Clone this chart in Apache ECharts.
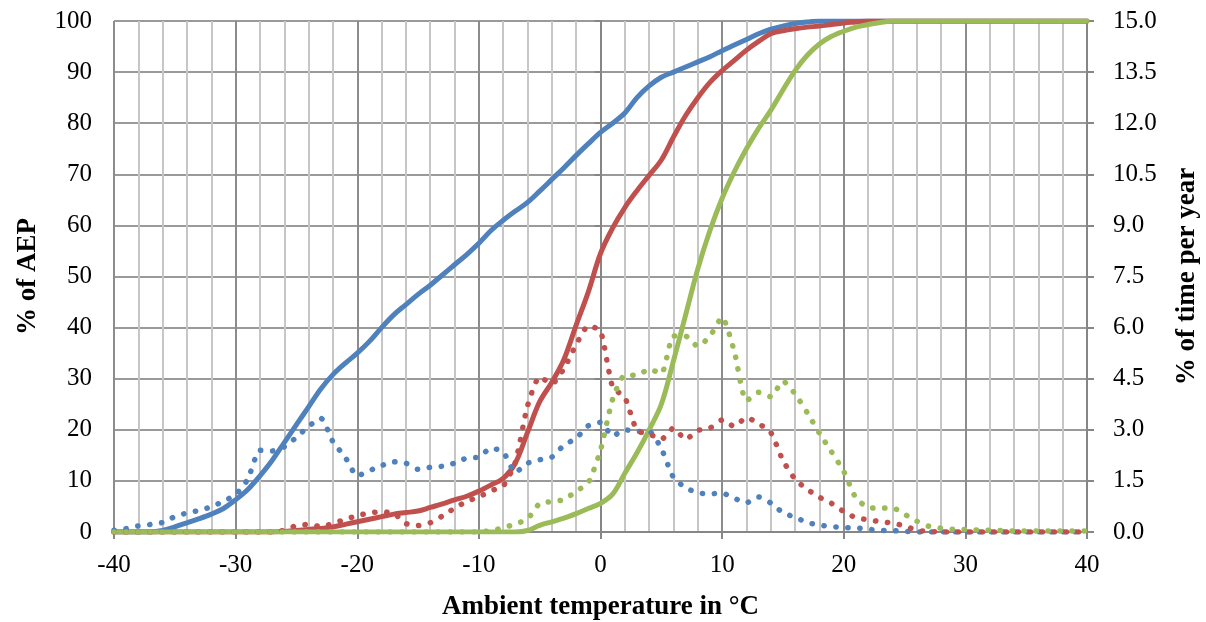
<!DOCTYPE html>
<html>
<head>
<meta charset="utf-8">
<script src="https://cdn.jsdelivr.net/npm/echarts@6/dist/echarts.min.js"></script>
<style>
html,body{margin:0;padding:0;background:#fff;}
#chart{width:1206px;height:622px;}
</style>
</head>
<body>
<div id="chart"></div>
<script>
// Temperatures (°C), one point per degree from -40 to 40
const temperatures = [];
for (let t = -40; t <= 40; t++) temperatures.push(t);

// Cumulative % of AEP (left axis)
const aepBlue = [0,0,0,0,0.3,1,1.8,2.6,3.5,4.6,
  6.3,8.3,11,14,17.5,21,24.5,28,30.8,33,
  35,37.3,40,42.5,44.5,46.5,48.3,50.3,52.3,54.3,
  56.5,59,61,62.8,64.5,66.7,69,71.3,73.7,76,
  78.2,80,82,85,87.3,89,90,91,92,93,
  94.2,95.3,96.4,97.5,98.4,99,99.5,99.8,100,100,
  100,100,100,100,100,100,100,100,100,100,
  100,100,100,100,100,100,100,100,100,100,100];
const aepRed = [0,0,0,0,0,0,0,0,0,0,
  0,0,0,0,0.1,0.3,0.5,0.7,1,1.5,
  2,2.5,3,3.5,3.8,4.1,4.8,5.5,6.3,7,
  8,9.2,10.5,13.5,19.5,25.5,29.3,33.8,40.5,47,
  54.5,59.5,63.5,66.8,69.8,72.8,77.3,81.5,85,88,
  90.3,92.3,94.3,96,97.5,98.1,98.5,98.8,99,99.3,
  99.6,99.8,100,100,100,100,100,100,100,100,
  100,100,100,100,100,100,100,100,100,100,100];
const aepGreen = [0,0,0,0,0,0,0,0,0,0,
  0,0,0,0,0,0,0,0,0,0,
  0,0,0,0,0,0,0,0,0,0,
  0,0,0,0,0.3,1.3,2,2.7,3.6,4.6,
  5.6,7.4,11.5,15.5,20,25,33.5,42.5,51.5,59,
  65.3,70.5,75,79,82.5,86.5,90.3,93.3,95.5,97,
  98,98.8,99.3,99.7,100,100,100,100,100,100,
  100,100,100,100,100,100,100,100,100,100,100];

// % of time per year (right axis)
const timeBlue = [0.05,0.1,0.18,0.22,0.28,0.45,0.56,0.63,0.74,0.9,
  1.1,1.55,2.4,2.38,2.5,2.78,3.1,3.34,2.65,2.2,
  1.65,1.8,1.95,2.06,2.02,1.84,1.9,1.93,2.02,2.17,
  2.2,2.46,2.35,1.75,2.02,2.12,2.2,2.55,2.75,3.12,
  3.22,2.82,3.0,2.95,2.95,2.45,1.6,1.3,1.15,1.12,
  1.14,0.99,0.86,1.03,0.85,0.57,0.43,0.28,0.2,0.16,
  0.13,0.12,0.08,0.05,0.04,0.02,0,0,0,0,
  0,0,0,0,0,0,0,0,0,0,0];
const timeRed = [0,0,0,0,0,0,0,0,0,0,
  0,0,0,0,0.05,0.19,0.22,0.16,0.25,0.37,
  0.48,0.56,0.59,0.55,0.25,0.19,0.27,0.47,0.7,0.9,
  1.03,1.21,1.35,2.05,3.7,4.55,4.35,4.8,5.5,6.05,
  5.9,4.25,3.95,2.98,2.88,2.72,3.05,2.72,2.98,3.05,
  3.29,3.1,3.36,3.18,2.92,2.1,1.55,1.25,1.02,0.84,
  0.6,0.42,0.36,0.3,0.26,0.18,0.05,0.02,0,0,
  0,0,0,0,0,0,0,0,0,0,0];
const timeGreen = [0,0,0,0,0,0,0,0,0,0,
  0,0,0,0,0,0,0,0,0,0,
  0,0,0,0,0,0,0,0,0,0,
  0,0.04,0.12,0.24,0.38,0.84,0.89,0.95,1.2,1.45,
  2.4,3.9,4.6,4.6,4.78,4.65,5.75,5.75,5.45,5.75,
  6.3,5.3,3.85,4.1,3.97,4.43,4.05,3.5,2.9,2.35,
  1.78,1.0,0.72,0.7,0.71,0.52,0.32,0.17,0.11,0.08,
  0.07,0.06,0.05,0.04,0.03,0.03,0.03,0.03,0.03,0.03,0.03];

const xTitle = 'Ambient temperature in °C';
const yLeftTitle = '% of AEP';
const yRightTitle = '% of time per year';

const colors = {blue:'#4F81BD', red:'#C0504D', green:'#9BBB59'};
const pair = arr => temperatures.map((t, i) => [t, arr[i]]);
const font = 'Liberation Serif';

function solid(name, data, color) {
  return {name, type:'line', yAxisIndex:0, data:pair(data), showSymbol:false,
    smooth:0.35,
    lineStyle:{color, width:5, cap:'round', join:'round'}, z:2};
}
function dotted(name, data, color) {
  return {name, type:'line', yAxisIndex:1, data:pair(data), showSymbol:false,
    smooth:0.2,
    lineStyle:{color, width:5.5, type:[0.3, 11.7], cap:'round', join:'round'}, z:3};
}

const chart = echarts.init(document.getElementById('chart'), null, {renderer:'canvas'});
chart.setOption({
  animation:false,
  backgroundColor:'#fff',
  grid:{left:114, right:119, top:21, bottom:90, containLabel:false, outerBoundsMode:'none'},
  xAxis:{type:'value', min:-40, max:40, interval:10,
    name:xTitle, nameLocation:'middle', nameGap:62,
    nameTextStyle:{fontFamily:font, fontWeight:'bold', fontSize:27, color:'#000'},
    axisLine:{onZero:false, lineStyle:{color:'#868686', width:2}},
    axisTick:{show:true, length:7, lineStyle:{color:'#868686', width:2}},
    minorTick:{show:false, splitNumber:5},
    axisLabel:{fontFamily:font, fontSize:25, color:'#000', margin:21},
    splitLine:{show:true, lineStyle:{color:'#8c8c8c', width:2}},
    minorSplitLine:{show:true, lineStyle:{color:'#c6c6c6', width:2}}
  },
  yAxis:[
    {type:'value', min:0, max:100, interval:10, position:'left',
      name:yLeftTitle, nameLocation:'middle', nameGap:72, nameRotate:90,
      nameTextStyle:{fontFamily:font, fontWeight:'bold', fontSize:27, color:'#000'},
      axisLine:{show:true, lineStyle:{color:'#868686', width:2}},
      axisTick:{show:true, length:6, lineStyle:{color:'#868686', width:2}},
      axisLabel:{fontFamily:font, fontSize:25, color:'#000', margin:22},
      splitLine:{show:true, lineStyle:{color:'#9a9a9a', width:2}}
    },
    {type:'value', min:0, max:15, interval:1.5, position:'right',
      name:yRightTitle, nameLocation:'middle', nameGap:87, nameRotate:90,
      nameTextStyle:{fontFamily:font, fontWeight:'bold', fontSize:27, color:'#000'},
      axisLine:{show:true, lineStyle:{color:'#868686', width:2}},
      axisTick:{show:true, length:7, lineStyle:{color:'#868686', width:2}},
      axisLabel:{fontFamily:font, fontSize:25, color:'#000', margin:26,
        formatter: v => v.toFixed(1)},
      splitLine:{show:false}
    }
  ],
  series:[
    solid('AEP blue', aepBlue, colors.blue),
    solid('AEP red', aepRed, colors.red),
    solid('AEP green', aepGreen, colors.green),
    dotted('Time blue', timeBlue, colors.blue),
    dotted('Time red', timeRed, colors.red),
    dotted('Time green', timeGreen, colors.green)
  ]
});
</script>
</body>
</html>
